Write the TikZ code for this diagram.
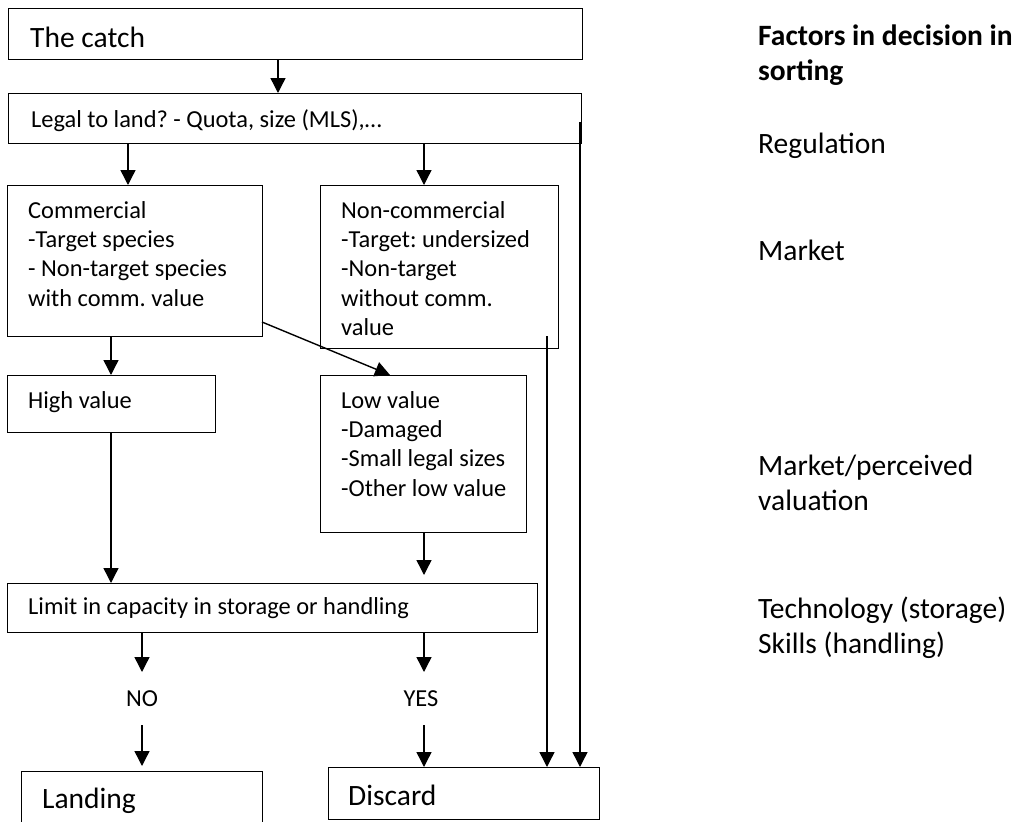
\documentclass[tikz,border=0pt]{standalone}
\usepackage{fontspec}
\setmainfont{Carlito}
\usetikzlibrary{arrows.meta}
\frenchspacing
\begin{document}
\begin{tikzpicture}[x=1pt,y=-1pt,
  box/.style={draw, line width=1.4pt, inner sep=0pt, anchor=north west},
  small/.style={font=\fontsize{24.4}{29.4}\selectfont, inner sep=0pt, anchor=base west, align=left},
  large/.style={font=\fontsize{29.5}{35}\selectfont, inner sep=0pt, anchor=base west, align=left},
  arr/.style={line width=1.4pt, -{Triangle[width=15pt,length=15pt]}},
  ln/.style={line width=1.4pt}]
\clip (0,0) rectangle (1013,822);
\fill[white] (0,0) rectangle (1013,822);
% boxes
\node[box, minimum width=574pt, minimum height=51pt] (catch) at (8,8) {};
\node[box, minimum width=573pt, minimum height=50pt] (legal) at (8,93) {};
\node[box, minimum width=255pt, minimum height=151pt] (comm) at (7,185) {};
\node[box, minimum width=238pt, minimum height=163pt] (noncomm) at (320,185) {};
\node[box, minimum width=208pt, minimum height=57pt] (high) at (7,375) {};
\node[box, minimum width=206pt, minimum height=157pt] (low) at (320,375) {};
\node[box, minimum width=530pt, minimum height=49pt] (limit) at (7,583) {};
\node[box, minimum width=241pt, minimum height=80pt] (landing) at (21,771) {};
\node[box, minimum width=271pt, minimum height=52pt] (discard) at (328,767) {};
% texts in boxes (base anchor = baseline of the last line)
\node[large] (catchT) at (30,47) {The catch};
\node[small] (legalT) at (31,127) {Legal to land? - Quota, size (MLS),…};
\node[small] (commT) at (28,306.2) {Commercial\\-Target species\\- Non-target species\\with comm. value};
\node[small] (noncommT) at (341,335.6) {Non-commercial\\-Target: undersized\\-Non-target\\without comm.\\value};
\node[small] (highT) at (28,408) {High value};
\node[small] (lowT) at (341,496.2) {Low value\\-Damaged\\-Small legal sizes\\-Other low value};
\node[small] (limitT) at (28,614) {Limit in capacity in storage or handling};
\node[small, anchor=base] (no) at (142,706) {NO};
\node[small, anchor=base] (yes) at (421,706) {YES};
\node[large] (landingT) at (42,808) {Landing};
\node[large] (discardT) at (348,805) {Discard};
% right column
\node[large, font=\fontsize{29.5}{35}\selectfont\bfseries] (factors) at (758,80) {Factors in decision in\\sorting};
\node[large] (reg) at (758,153) {Regulation};
\node[large] (market) at (758,260) {Market};
\node[large] (perc) at (758,510) {Market/perceived\\valuation};
\node[large] (tech) at (758,653) {Technology (storage)\\Skills (handling)};
% connectors
\draw[arr] (catch.south -| 278,0) -- (legal.north -| 278,0);
\draw[arr] (legal.south -| 128,0) -- (comm.north -| 128,0);
\draw[arr] (legal.south -| 424,0) -- (noncomm.north -| 424,0);
\draw[arr] (comm.south -| 111,0) -- (high.north -| 111,0);
\coordinate (d1) at (262,322);
\draw[arr] (d1) -- (low.north -| 390,0);
\draw[arr] (high.south -| 111,0) -- (limit.north -| 111,0);
\coordinate (lowend) at (424,575);
\draw[arr] (low.south -| 424,0) -- (lowend);
\coordinate (noA) at (142,672);
\coordinate (noB) at (142,725);
\coordinate (noC) at (142,766);
\draw[arr] (limit.south -| noA) -- (noA);
\draw[arr] (noB) -- (noC);
\coordinate (yesA) at (424,672);
\coordinate (yesB) at (424,725);
\draw[arr] (limit.south -| yesA) -- (yesA);
\draw[arr] (yesB) -- (discard.north -| yesB);
\coordinate (s1) at (547,336);
\draw[arr] (s1) -- (discard.north -| s1);
\coordinate (s2) at (580,122);
\draw[arr] (s2) -- (discard.north -| s2);
\end{tikzpicture}
\end{document}
